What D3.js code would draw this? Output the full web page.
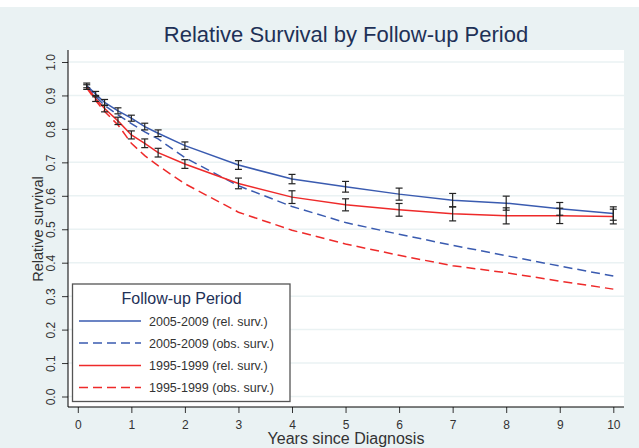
<!DOCTYPE html>
<html><head><meta charset="utf-8">
<script src="https://cdn.jsdelivr.net/npm/d3@7"></script>
<style>html,body{margin:0;padding:0;background:#fff;}svg{display:block;font-family:"Liberation Sans",Arial,sans-serif;}</style>
</head><body>
<svg id="chart" width="639" height="448"></svg>
<script>
const years = [1/6, 1/3, 0.5, 0.75, 1, 1.25, 1.5, 2, 3, 4, 5, 6, 7, 8, 9, 10];
const rel2005 = [0.930, 0.904, 0.879, 0.854, 0.832, 0.807, 0.787, 0.750, 0.692, 0.650, 0.627, 0.605, 0.587, 0.578, 0.561, 0.547];
const rel2005Half = [0.007, 0.008, 0.009, 0.009, 0.009, 0.010, 0.010, 0.011, 0.013, 0.014, 0.016, 0.018, 0.020, 0.021, 0.019, 0.020];
const obs2005 = [0.926, 0.897, 0.870, 0.842, 0.816, 0.791, 0.770, 0.714, 0.630, 0.568, 0.520, 0.485, 0.452, 0.421, 0.390, 0.360];
const rel1995 = [0.925, 0.891, 0.861, 0.824, 0.782, 0.757, 0.729, 0.695, 0.637, 0.596, 0.573, 0.558, 0.546, 0.540, 0.540, 0.538];
const rel1995Half = [0.007, 0.009, 0.010, 0.011, 0.012, 0.013, 0.013, 0.013, 0.016, 0.019, 0.018, 0.019, 0.021, 0.024, 0.023, 0.022];
const obs1995 = [0.922, 0.885, 0.852, 0.812, 0.757, 0.720, 0.690, 0.636, 0.551, 0.497, 0.456, 0.422, 0.391, 0.370, 0.345, 0.321];
const xTicks = [0,1,2,3,4,5,6,7,8,9,10];
const yTicks = [0.0,0.1,0.2,0.3,0.4,0.5,0.6,0.7,0.8,0.9,1.0];
const seriesNames = ["2005-2009 (rel. surv.)","2005-2009 (obs. surv.)","1995-1999 (rel. surv.)","1995-1999 (obs. surv.)"];
const titleText = "Relative Survival by Follow-up Period";
const legendTitle = "Follow-up Period";

const BLUE = "#3a5bb0", RED = "#ee2a2a", NAVY = "#1e3157", BG = "#eaf2f3";
const svg = d3.select("#chart");
const W = 639, H = 448;
const plot = {l: 68, r: 624, t: 50, b: 407};
const x = d3.scaleLinear().domain([0, 10]).range([77.8, 613.3]);
const y = d3.scaleLinear().domain([0, 1]).range([396.5, 62]);

svg.append("rect").attr("width", W).attr("height", H).attr("fill", "#fff");
svg.append("rect").attr("y", 7).attr("width", W).attr("height", H - 7).attr("fill", BG);
svg.append("rect").attr("x", plot.l).attr("y", plot.t).attr("width", plot.r - plot.l).attr("height", plot.b - plot.t).attr("fill", "#fff");

// grid
svg.append("g").selectAll("line").data(yTicks).join("line")
  .attr("x1", plot.l).attr("x2", plot.r).attr("y1", d => y(d)).attr("y2", d => y(d))
  .attr("stroke", BG).attr("stroke-width", 1.5);

// title
svg.append("text").attr("x", 346).attr("y", 42).attr("text-anchor", "middle")
  .attr("font-size", 22).attr("fill", NAVY).text(titleText);

// axes
const yAxis = d3.axisLeft(y).tickValues(yTicks).tickFormat(d3.format(".1f")).tickSize(6).tickSizeOuter(0);
const gy = svg.append("g").attr("transform", `translate(${plot.l},0)`).call(yAxis);
gy.select(".domain").remove();
gy.append("line").attr("x1", 0).attr("x2", 0).attr("y1", plot.t).attr("y2", plot.b).attr("stroke", "#000");
gy.selectAll(".tick line").attr("stroke", "#333");
gy.selectAll(".tick text").attr("font-size", 12).attr("fill", "#333").attr("font-family", "Liberation Sans, Arial, sans-serif")
  .attr("x", null).attr("dy", null).attr("text-anchor", "middle")
  .attr("transform", "translate(-13,0) rotate(-90)");

const xAxis = d3.axisBottom(x).tickValues(xTicks).tickFormat(d3.format("d")).tickSize(6).tickSizeOuter(0);
const gx = svg.append("g").attr("transform", `translate(0,${plot.b})`).call(xAxis);
gx.select(".domain").remove();
gx.append("line").attr("x1", plot.l).attr("x2", plot.r).attr("y1", 0).attr("y2", 0).attr("stroke", "#000");
gx.selectAll(".tick line").attr("stroke", "#333");
gx.selectAll(".tick text").attr("font-size", 12).attr("fill", "#333").attr("font-family", "Liberation Sans, Arial, sans-serif")
  .attr("dy", null).attr("y", 22);

svg.append("text").attr("x", 346).attr("y", 444).attr("text-anchor", "middle")
  .attr("font-size", 16).attr("fill", "#333").text("Years since Diagnosis");
svg.append("text").attr("transform", `translate(43,229) rotate(-90)`).attr("text-anchor", "middle")
  .attr("font-size", 14.5).attr("fill", "#333").text("Relative survival");

// lines
const line = d3.line().x(d => x(d[0])).y(d => y(d[1]));
const series = [
  {vals: rel2005, color: BLUE, dash: null},
  {vals: obs2005, color: BLUE, dash: "9,5"},
  {vals: rel1995, color: RED, dash: null},
  {vals: obs1995, color: RED, dash: "9,5"}
];
series.forEach(s => {
  svg.append("path").datum(years.map((t, i) => [t, s.vals[i]]))
    .attr("d", line).attr("fill", "none").attr("stroke", s.color).attr("stroke-width", 1.5)
    .attr("stroke-dasharray", s.dash);
});

// error bars
function bars(vals, half) {
  const g = svg.append("g").attr("stroke", "#222").attr("stroke-width", 1.2);
  years.forEach((t, i) => {
    const cx = x(t), lo = y(vals[i] - half[i]), hi = y(vals[i] + half[i]);
    g.append("line").attr("x1", cx).attr("x2", cx).attr("y1", lo).attr("y2", hi);
    g.append("line").attr("x1", cx - 3.5).attr("x2", cx + 3.5).attr("y1", lo).attr("y2", lo);
    g.append("line").attr("x1", cx - 3.5).attr("x2", cx + 3.5).attr("y1", hi).attr("y2", hi);
  });
}
bars(rel2005, rel2005Half);
bars(rel1995, rel1995Half);

// legend
const lg = svg.append("g");
lg.append("rect").attr("x", 72.5).attr("y", 284).attr("width", 217.5).attr("height", 117.5)
  .attr("fill", "#fff").attr("stroke", "#555").attr("stroke-width", 1.3);
lg.append("text").attr("x", 181.5).attr("y", 303.5).attr("text-anchor", "middle")
  .attr("font-size", 16).attr("fill", NAVY).text(legendTitle);
const rowY = [321, 343, 365.5, 387.5];
series.forEach((s, i) => {
  lg.append("line").attr("x1", 79).attr("x2", 141).attr("y1", rowY[i]).attr("y2", rowY[i])
    .attr("stroke", s.color).attr("stroke-width", 1.5).attr("stroke-dasharray", s.dash);
  lg.append("text").attr("x", 149).attr("y", rowY[i] + 4.5).attr("font-size", 12.5).attr("fill", "#333").text(seriesNames[i]);
});
</script>
</body></html>
